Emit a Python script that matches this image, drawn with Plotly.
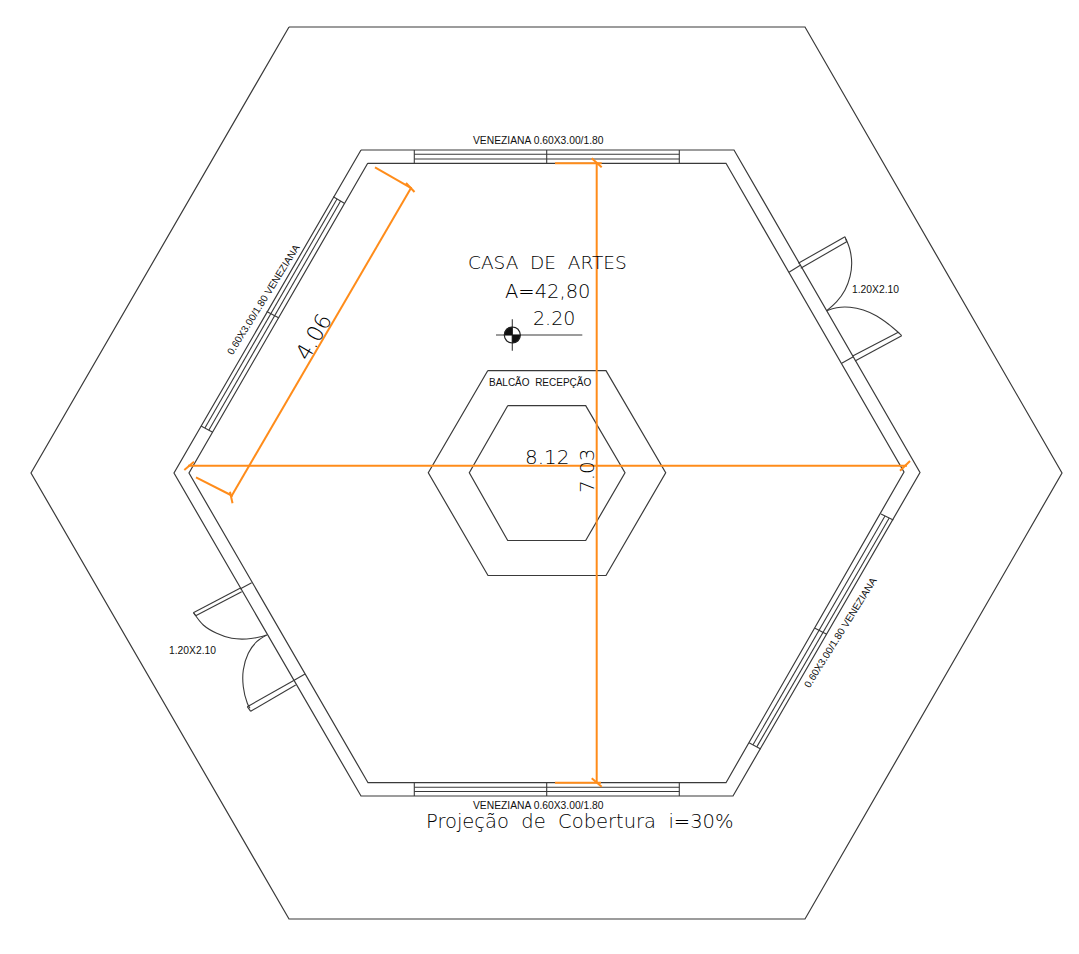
import plotly.graph_objects as go

INK = "#3a3a3a"
ORANGE = "#ff8c1a"

# closed outlines (x list, y list)
roof_x = [289, 805, 1062, 805, 289, 31, 289]
roof_y = [27, 27, 473, 919, 919, 473, 27]
wall_outer_x = [361, 734, 920, 733, 361, 174, 361]
wall_outer_y = [150, 150, 472.5, 796, 796, 473, 150]
wall_inner_x = [367.7, 726, 904, 726, 368, 189, 367.7]
wall_inner_y = [163.3, 163.3, 472, 782.7, 782.7, 473, 163.3]
counter_outer_x = [487.7, 606, 665.7, 606, 488, 428.3, 487.7]
counter_outer_y = [370.7, 370.7, 472.7, 575.5, 575.5, 472.7, 370.7]
counter_inner_x = [507.7, 585.7, 625, 585.7, 507.7, 469.3, 507.7]
counter_inner_y = [405.7, 405.7, 472.7, 540.5, 540.5, 472.7, 405.7]

# windows and door leaves: [x0, y0, x1, y1]
window_segments = [
    [414.3, 150, 414.3, 163.3], [546.7, 150, 546.7, 163.3], [679.3, 150, 679.3, 163.3],
    [414.3, 154.3, 679.3, 154.3], [414.3, 159, 679.3, 159],
    [414.3, 782.7, 414.3, 796], [546.7, 782.7, 546.7, 796], [679.3, 782.7, 679.3, 796],
    [414.3, 787.3, 679.3, 787.3], [414.3, 791.5, 679.3, 791.5],
    [333.3, 196.7, 344.3, 203.3], [266.7, 311.5, 279, 318], [201, 426, 212.7, 432.3],
    [337, 198.9, 204.9, 428.1], [340.6, 201.1, 208.8, 430.2],
    [881, 514, 893.3, 520], [815, 628.3, 826.7, 634.3], [749, 742.7, 760.7, 749],
    [885, 516, 753, 744.8], [889.2, 518, 756.8, 746.9],
]
door_segments = [
    [789, 272.3, 800.7, 265], [798.3, 263.3, 845, 236.7], [800.7, 268.3, 846.7, 241.7], [845, 236.7, 846.7, 241.7],
    [841.7, 363.3, 853.3, 356.7], [852.7, 356, 898.3, 332.3], [855, 361, 901.7, 335.7], [898.3, 332.3, 901.7, 335.7],
    [251.7, 582.7, 240, 589], [240, 588.3, 193.3, 612.7], [241.7, 591.7, 195.7, 615.7], [193.3, 612.7, 195.7, 615.7],
    [305, 674, 293.3, 680.7], [247.3, 706.7, 293.3, 680.7], [250.7, 711.3, 295.7, 685], [247.3, 706.7, 250.7, 711.3],
]
door_arcs = [
    ([846, 850, 851.7, 850, 845, 836.7, 826.7], [239, 250, 263.3, 276.7, 290, 301.7, 310.7]),
    ([826.7, 836.7, 850, 863.3, 876.7, 888.3, 899], [310.7, 307.7, 307.3, 310, 316, 324, 333]),
    ([194, 203.3, 216.7, 231.7, 246.7, 258.3, 266.7], [613.3, 625, 633.3, 638.3, 639, 637.3, 635]),
    ([266.7, 256.7, 248.3, 243.3, 243.3, 247.3, 250], [635, 641.7, 653.3, 670, 686.7, 703.3, 708.3]),
]

# level marker
level_segments = [[496, 335, 582.3, 335], [512.3, 319.3, 512.3, 350.7]]
marker_ring_x = [504.3, 504.9, 506.6, 509.2, 512.3, 515.4, 518, 519.7, 520.3, 519.7, 518, 515.4, 512.3, 509.2, 506.6, 504.9, 504.3]
marker_ring_y = [335, 331.9, 329.3, 327.6, 327, 327.6, 329.3, 331.9, 335, 338.1, 340.7, 342.4, 343, 342.4, 340.7, 338.1, 335]
marker_fill_x = [512.3, 504.3, 504.9, 506.6, 509.2, 512.3, 512.3, None, 512.3, 520.3, 519.7, 518, 515.4, 512.3, 512.3]
marker_fill_y = [335, 335, 331.9, 329.3, 327.6, 327, 335, None, 335, 335, 338.1, 340.7, 342.4, 343, 335]

# orange dimension lines
dimension_segments = [
    [188, 465.7, 907, 465.7], [184.3, 470, 194, 461.7], [900, 470.7, 910, 461],
    [596.7, 163.3, 596.7, 783], [555, 163.3, 601.7, 163.3], [591.7, 158.3, 601.7, 167.3],
    [555, 782.7, 601, 782.7], [591.7, 778.3, 601.7, 786.7],
    [411, 188, 231, 497], [375, 167.3, 411.7, 188.3], [406, 183, 414.5, 192],
    [196, 477.3, 232.7, 496], [230, 491.7, 232.5, 503.3],
]

# labels
NB = "\u00a0"
label_text = [
    "VENEZIANA 0.60X3.00/1.80", "VENEZIANA 0.60X3.00/1.80",
    "CASA" + NB * 2 + "DE" + NB * 2 + "ARTES", "A=42,80", "2.20",
    "BALCÃO" + NB * 2 + "RECEPÇÃO", "8.12", "7.03", "4.06",
    "1.20X2.10", "1.20X2.10",
    "0.60X3.00/1.80 VENEZIANA", "0.60X3.00/1.80 VENEZIANA",
    "Projeção" + NB * 2 + "de" + NB * 2 + "Cobertura" + NB * 2 + "i=30%",
]
label_x = [538, 538, 547, 548, 554, 540, 547, 587, 313, 875, 192, 263, 840, 580]
label_y = [140, 805, 262, 291, 318, 382, 457, 471, 337, 289, 650, 299, 632, 821]
label_size = [10.3, 10.3, 18.5, 19.5, 19, 10, 20, 20, 22, 10.3, 10.3, 10, 10, 19.5]
label_angle = [0, 0, 0, 0, 0, 0, 0, -90, -60, 0, 0, -58, -58, 0]
label_thin = [False, False, True, True, True, False, True, True, True, False, False, False, False, True]


def flatten(segments):
    xs, ys = [], []
    for x0, y0, x1, y1 in segments:
        xs += [x0, x1, None]
        ys += [y0, y1, None]
    return xs, ys


fig = go.Figure()


def add_line(xs, ys, color=INK, width=1.2, shape="linear"):
    fig.add_trace(go.Scatter(x=xs, y=ys, mode="lines", hoverinfo="skip", showlegend=False,
                             line=dict(color=color, width=width, shape=shape)))


for xs, ys in [(roof_x, roof_y), (wall_outer_x, wall_outer_y), (wall_inner_x, wall_inner_y),
               (counter_outer_x, counter_outer_y), (counter_inner_x, counter_inner_y)]:
    add_line(xs, ys)
for seg in (window_segments, door_segments):
    add_line(*flatten(seg), width=1.1)
for xs, ys in door_arcs:
    add_line(xs, ys, width=1.1, shape="spline")
add_line(*flatten(level_segments), width=1.1)
fig.add_trace(go.Scatter(x=marker_fill_x, y=marker_fill_y, mode="lines", fill="toself",
                         fillcolor="#111111", line=dict(color="#111111", width=0.5),
                         hoverinfo="skip", showlegend=False))
add_line(marker_ring_x, marker_ring_y, color="#222222", width=1.2)
add_line(*flatten(dimension_segments), color=ORANGE, width=2)

for t, x, y, s, a, thin in zip(label_text, label_x, label_y, label_size, label_angle, label_thin):
    font = (dict(family="'DejaVu Sans', sans-serif", size=s, color="#000000", weight=200) if thin
            else dict(family="Liberation Sans", size=s, color="#111111"))
    fig.add_annotation(x=x, y=y, text=t, showarrow=False, textangle=a, xanchor="center", yanchor="middle", font=font)

fig.update_layout(
    width=1079, height=954, margin=dict(l=0, r=0, t=0, b=0),
    paper_bgcolor="white", plot_bgcolor="white", hovermode=False,
    xaxis=dict(range=[0, 1079], visible=False, fixedrange=True),
    yaxis=dict(range=[954, 0], visible=False, fixedrange=True),
)
fig.write_html("out.html", config={"displayModeBar": False},
               post_script="document.body.style.margin='0';document.body.style.overflow='hidden';")
